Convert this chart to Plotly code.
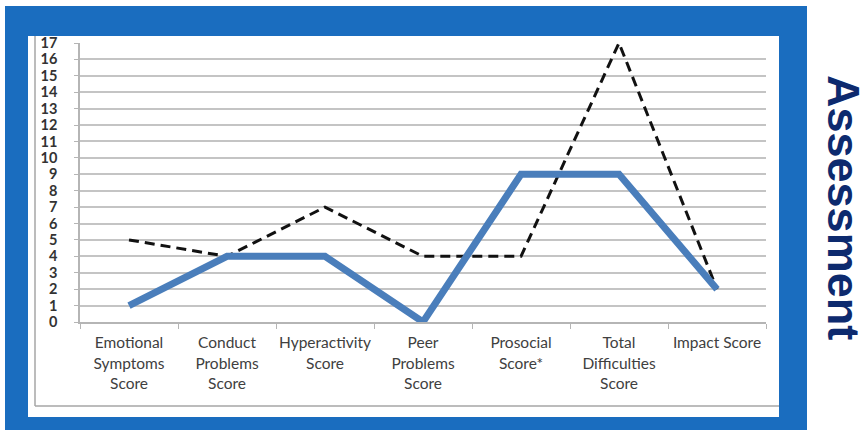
import plotly.graph_objects as go

categories = ["Emotional<br>Symptoms<br>Score", "Conduct<br>Problems<br>Score", "Hyperactivity<br>Score",
              "Peer<br>Problems<br>Score", "Prosocial<br>Score*", "Total<br>Difficulties<br>Score", "Impact Score"]
solid_values = [1, 4, 4, 0, 9, 9, 2]
dashed_values = [5, 4, 7, 4, 4, 17, 2]
y_ticks = list(range(0, 18))
side_title = "Assessment"

W, H = 868, 439
L, R, T, B = 80, 766, 43, 322
PW, PH = R - L, B - T

fig = go.Figure()
fig.add_trace(go.Scatter(x=categories, y=dashed_values, mode="lines", cliponaxis=False,
                         line=dict(color="#111111", width=3, dash="10px,6px"), showlegend=False))
fig.add_trace(go.Scatter(x=categories, y=solid_values, mode="lines", cliponaxis=False,
                         line=dict(color="#4a7ebb", width=7), showlegend=False))

def px(x):
    return (x - L) / PW
def py(y):
    return (B - y) / PH

shapes = [
    dict(type="rect", xref="paper", yref="paper", x0=px(5), x1=px(807), y0=py(430), y1=py(6),
         fillcolor="#1a6dbf", line=dict(width=0), layer="below"),
    dict(type="rect", xref="paper", yref="paper", x0=px(28), x1=px(779), y0=py(417), y1=py(36),
         fillcolor="white", line=dict(width=0), layer="below"),
    dict(type="line", xref="paper", yref="paper", x0=px(35), x1=px(35), y0=py(406), y1=py(36),
         line=dict(color="#a6a6a6", width=1.5), layer="below"),
    dict(type="line", xref="paper", yref="paper", x0=px(35), x1=px(779), y0=py(406), y1=py(406),
         line=dict(color="#a6a6a6", width=1.5), layer="below"),
]

fig.update_layout(
    width=W, height=H,
    margin=dict(l=L, r=W - R, t=T, b=H - B, autoexpand=False),
    paper_bgcolor="white", plot_bgcolor="rgba(0,0,0,0)",
    shapes=shapes,
    xaxis=dict(type="category", range=[-0.5, 6.5], showgrid=False, showline=True, linecolor="#b5b5b5",
               linewidth=1.5, ticks="outside", tickson="boundaries", ticklen=5, tickcolor="#b5b5b5",
               tickangle=0,
               tickfont=dict(family="Lato, Carlito, sans-serif", size=15.5, color="#404040"),
               ticklabelstandoff=6, fixedrange=True),
    yaxis=dict(range=[0, 17], tickvals=y_ticks, showgrid=True, gridcolor="#c4c4c4", gridwidth=1.5,
               showline=True, linecolor="#b5b5b5", linewidth=1.5, ticks="outside", ticklen=4,
               tickcolor="#b5b5b5", zeroline=False,
               tickfont=dict(family="Lato, Carlito, sans-serif", size=14.5, color="#333333", weight="bold"),
               ticklabelstandoff=14, fixedrange=True),
    annotations=[dict(text="<b>" + side_title + "</b>", xref="paper", yref="paper", x=px(844), y=py(207),
                      xanchor="center", yanchor="middle", textangle=90, showarrow=False,
                      font=dict(family="Liberation Sans, Arial, sans-serif", size=45, color="#0d2a6e"))],
)

fig.write_html("out.html", config={"displayModeBar": False},
               post_script="document.body.style.margin='0';document.body.style.overflow='hidden';")
